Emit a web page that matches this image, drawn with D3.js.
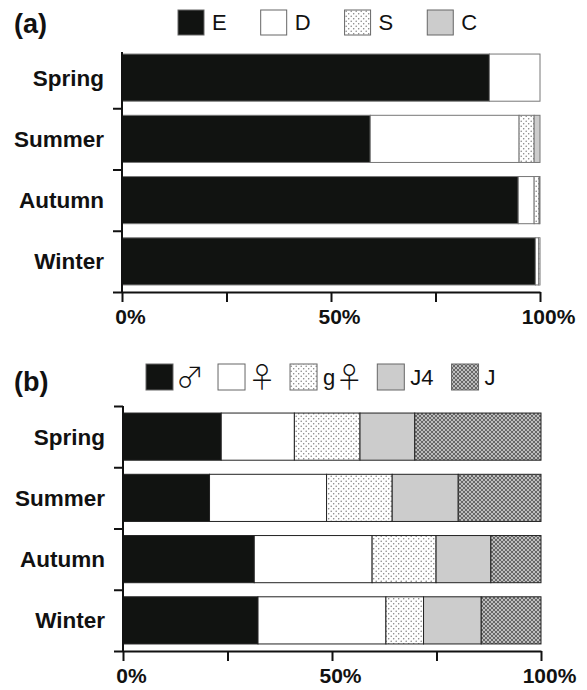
<!DOCTYPE html>
<html><head><meta charset="utf-8">
<script src="https://cdn.jsdelivr.net/npm/d3@7"></script>
<style>
body{margin:0;background:#fff;}
svg{display:block;}
</style></head>
<body>
<svg id="chart" width="587" height="690"></svg>
<script>
// ---- data ----
const categories = ["Spring", "Summer", "Autumn", "Winter"];

const keysA = ["E", "D", "S", "C"];
const valuesE = [87.9, 59.4, 94.8, 98.9];
const valuesD = [12.1, 35.6, 3.8, 0.8];
const valuesS = [0.0, 3.6, 1.2, 0.3];
const valuesC = [0.0, 1.4, 0.2, 0.0];

const keysB = ["♂", "♀", "g♀", "J4", "J"];
const valuesMale = [23.5, 20.7, 31.4, 32.3];
const valuesFemale = [17.5, 28.0, 28.2, 30.6];
const valuesGFemale = [15.7, 15.7, 15.3, 9.0];
const valuesJ4 = [13.1, 15.8, 13.1, 13.8];
const valuesJ = [30.2, 19.8, 12.0, 14.3];

const xTicks = [0, 25, 50, 75, 100];
const xTickLabels = ["0%", "", "50%", "", "100%"];

// ---- setup ----
const svg = d3.select("#chart");
const defs = svg.append("defs");

const pDot = defs.append("pattern").attr("id", "dots").attr("patternUnits", "userSpaceOnUse")
  .attr("width", 5).attr("height", 5);
pDot.append("rect").attr("width", 5).attr("height", 5).attr("fill", "#fff");
pDot.append("circle").attr("cx", 1.2).attr("cy", 1.2).attr("r", 0.75).attr("fill", "#808080");
pDot.append("circle").attr("cx", 3.7).attr("cy", 3.7).attr("r", 0.75).attr("fill", "#808080");

const pX = defs.append("pattern").attr("id", "hatch").attr("patternUnits", "userSpaceOnUse")
  .attr("width", 4).attr("height", 4);
pX.append("rect").attr("width", 4).attr("height", 4).attr("fill", "#bdbdbd");
pX.append("path").attr("d", "M0,0L4,4M0,4L4,0").attr("stroke", "#676767").attr("stroke-width", 1);

const fillsA = {"E": "#111311", "D": "#ffffff", "S": "url(#dots)", "C": "#cccccc"};
const fillsB = {"♂": "#111311", "♀": "#ffffff", "g♀": "url(#dots)", "J4": "#cccccc", "J": "url(#hatch)"};

const FONT = "Liberation Sans, Arial, Helvetica, sans-serif";
const SYMFONT = "Noto Sans CJK JP, Noto Sans CJK SC, DejaVu Sans, sans-serif";
const isSymbol = ch => ch === "♂" || ch === "♀";

function buildRows(keys, arrays) {
  return categories.map((c, i) => {
    const row = {cat: c};
    keys.forEach((k, j) => row[k] = arrays[j][i]);
    return row;
  });
}

function drawPanel(cfg) {
  const g = svg.append("g");
  const x = d3.scaleLinear().domain([0, 100]).range([cfg.x0, cfg.x1]);
  const y = d3.scaleBand().domain(categories).range([cfg.yTop, cfg.yBot])
    .paddingInner(0.23).paddingOuter(0.115);
  const rows = buildRows(cfg.keys, cfg.arrays);
  const series = d3.stack().keys(cfg.keys)(rows);

  series.forEach(s => {
    g.append("g").selectAll("rect").data(s).join("rect")
      .attr("x", d => x(d[0]))
      .attr("width", d => Math.max(0, x(d[1]) - x(d[0])))
      .attr("y", d => y(d.data.cat))
      .attr("height", y.bandwidth())
      .attr("fill", cfg.fills[s.key])
      .attr("stroke", d => (d[1] - d[0]) > 0 ? cfg.barStroke : "none")
      .attr("stroke-width", 1);
  });

  g.append("g").selectAll("text").data(categories).join("text")
    .attr("x", cfg.x0 - 18)
    .attr("y", d => y(d) + y.bandwidth() / 2)
    .attr("dy", "0.35em")
    .attr("text-anchor", "end")
    .attr("font-family", FONT)
    .attr("font-weight", "bold")
    .attr("font-size", 22.5)
    .attr("fill", "#111")
    .text(d => d);

  const yb = d3.scaleLinear().domain([0, categories.length]).range([cfg.yTop, cfg.yBot]);
  const yAxis = d3.axisLeft(yb).tickValues(cfg.yTickIdx).tickFormat("").tickSize(9).tickSizeOuter(0);
  const ya = g.append("g").attr("transform", `translate(${cfg.x0},0)`).call(yAxis);
  ya.select(".domain").attr("d", `M0,${cfg.yAxisTop}V${cfg.yBot}`);
  ya.selectAll("path,line").attr("stroke", "#111").attr("stroke-width", 2);

  const xAxis = d3.axisBottom(x).tickValues(xTicks).tickSize(10).tickSizeOuter(0).tickPadding(7)
    .tickFormat((d, i) => xTickLabels[i]);
  const xa = g.append("g").attr("transform", `translate(0,${cfg.yBot})`).call(xAxis);
  xa.selectAll("path,line").attr("stroke", "#111").attr("stroke-width", 2);
  xa.selectAll("text").attr("font-family", FONT)
    .attr("font-weight", "bold").attr("font-size", 21).attr("fill", "#111").attr("dx", 8);

  g.append("text").attr("x", 14).attr("y", cfg.labelY)
    .attr("font-family", FONT)
    .attr("font-weight", "bold").attr("font-size", 27).attr("fill", "#111")
    .text(cfg.label);

  let lx = cfg.legX;
  const cy = cfg.legY + cfg.sh / 2;
  cfg.keys.forEach(k => {
    const chars = Array.from(k);
    g.append("rect").attr("x", lx).attr("y", cfg.legY).attr("width", cfg.sw).attr("height", cfg.sh)
      .attr("fill", cfg.fills[k]).attr("stroke", "#666").attr("stroke-width", 1);
    const startAdj = isSymbol(chars[0]) ? -3 : 0;
    const tx = lx + cfg.sw + cfg.tgap + startAdj;
    const t = g.append("text").attr("x", tx).attr("y", cy)
      .attr("font-family", FONT).attr("font-size", 22).attr("fill", "#111");
    chars.forEach(ch => {
      const sym = isSymbol(ch);
      t.append("tspan")
        .attr("font-family", sym ? SYMFONT : FONT)
        .attr("font-size", sym ? cfg.symSize : 22)
        .attr("font-weight", sym ? 300 : 400)
        .attr("y", sym ? cy + 0.38 * cfg.symSize : cy + 0.36 * 22)
        .text(ch);
    });
    const endAdj = isSymbol(chars[chars.length - 1]) ? -4 : 0;
    lx = tx + t.node().getComputedTextLength() + cfg.gap + endAdj;
  });
}

drawPanel({
  keys: keysA, arrays: [valuesE, valuesD, valuesS, valuesC], fills: fillsA,
  x0: 122, x1: 540, yTop: 47, yBot: 292, yAxisTop: 52, yTickIdx: [1, 2, 3, 4],
  barStroke: "#777", label: "(a)", labelY: 33,
  legX: 178, legY: 10, sw: 26, sh: 25, gap: 34, tgap: 8, symSize: 28
});

drawPanel({
  keys: keysB, arrays: [valuesMale, valuesFemale, valuesGFemale, valuesJ4, valuesJ], fills: fillsB,
  x0: 123, x1: 541, yTop: 406, yBot: 651, yAxisTop: 406, yTickIdx: [0, 1, 2, 3, 4],
  barStroke: "#222", label: "(b)", labelY: 391,
  legX: 146, legY: 364, sw: 27, sh: 26, gap: 18, tgap: 6, symSize: 28
});
</script>
</body></html>
